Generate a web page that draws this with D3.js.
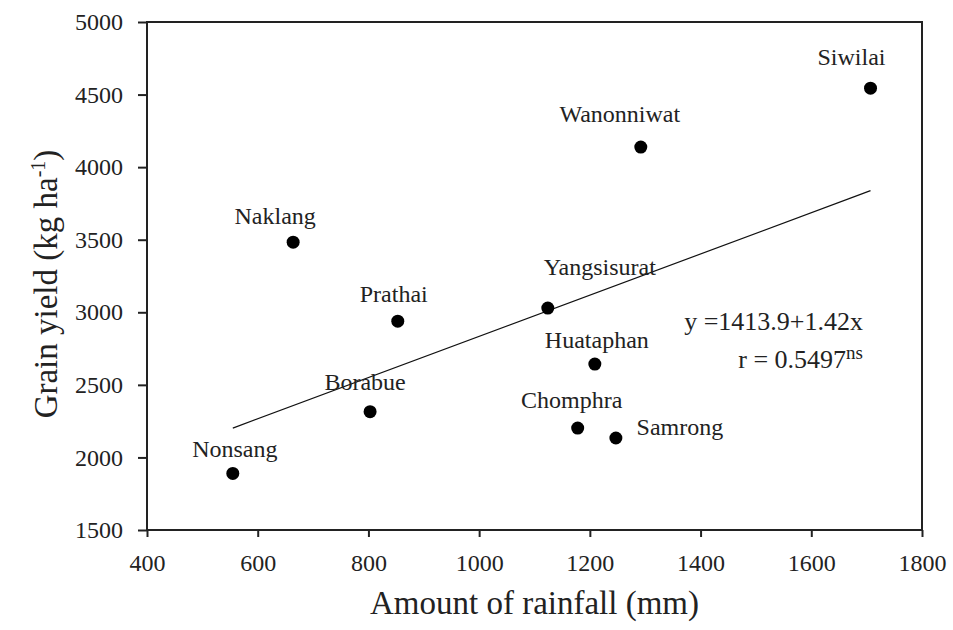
<!DOCTYPE html>
<html>
<head>
<meta charset="utf-8">
<script src="https://cdn.jsdelivr.net/npm/d3@7"></script>
<style>
  body { margin: 0; background: #fff; overflow: hidden; }
  svg { display: block; font-family: "Liberation Serif", "Times New Roman", serif; }
</style>
<script>
// data
const sites = ['Nonsang', 'Naklang', 'Borabue', 'Prathai', 'Yangsisurat', 'Chomphra', 'Huataphan', 'Samrong', 'Wanonniwat', 'Siwilai'];
const rainfall = [555, 664, 803, 853, 1124, 1178, 1209, 1247, 1292, 1707];
const grainYield = [1890, 3483, 2315, 2939, 3029, 2202, 2643, 2134, 4138, 4544];
const xTicks = [400, 600, 800, 1000, 1200, 1400, 1600, 1800];
const yTicks = [1500, 2000, 2500, 3000, 3500, 4000, 4500, 5000];
const intercept = 1413.9;
const slope = 1.42;

// where each site label sits relative to its dot
const labelOffset = {
    Nonsang: [2, -16], Naklang: [-18, -18], Borabue: [-5, -22], Prathai: [-4, -19],
    Yangsisurat: [52, -33], Chomphra: [-6, -20], Huataphan: [2, -16], Samrong: [64, -3],
    Wanonniwat: [-21, -25], Siwilai: [-19, -23]
};

const render = () => {
    const data = sites.map((s, i) => ({site: s, x: rainfall[i], y: grainYield[i]}));

    const svg = d3.select('svg');
    const width = +svg.attr('width');
    const height = +svg.attr('height');
    const margin = {top: 22, right: 31, bottom: 100, left: 147};
    const innerWidth = width - margin.left - margin.right;
    const innerHeight = height - margin.top - margin.bottom;

    const xscale = d3.scaleLinear().domain([400, 1800]).range([0, innerWidth]);
    const yscale = d3.scaleLinear().domain([1500, 5000]).range([innerHeight, 0]);

    const g = svg.append('g')
        .attr('transform', `translate(${margin.left}, ${margin.top})`);

    const ink = '#222';

    // axes
    const xAxis = g.append('g')
        .attr('transform', `translate(0, ${innerHeight})`)
        .call(d3.axisBottom(xscale).tickValues(xTicks).tickSize(7).tickPadding(17).tickFormat(d3.format('d')));
    const yAxis = g.append('g')
        .call(d3.axisLeft(yscale).tickValues(yTicks).tickSize(9).tickPadding(15).tickFormat(d3.format('d')));

    [xAxis, yAxis].forEach(a => {
        a.select('.domain').remove();
        a.selectAll('line').attr('stroke', ink).attr('stroke-width', 2);
        a.selectAll('text').attr('fill', ink).style('font-size', '24px')
            .style('font-family', '"Liberation Serif", serif');
    });

    // frame
    g.append('rect')
        .attr('width', innerWidth)
        .attr('height', innerHeight)
        .attr('fill', 'none')
        .attr('stroke', ink)
        .attr('stroke-width', 2);

    // regression line
    const xMin = d3.min(rainfall);
    const xMax = d3.max(rainfall);
    g.append('line')
        .attr('x1', xscale(xMin))
        .attr('y1', yscale(intercept + slope * xMin))
        .attr('x2', xscale(xMax))
        .attr('y2', yscale(intercept + slope * xMax))
        .attr('stroke', '#111')
        .attr('stroke-width', 1.2);

    // points
    g.selectAll('circle').data(data)
        .enter()
        .append('circle')
            .attr('cx', d => xscale(d.x))
            .attr('cy', d => yscale(d.y))
            .attr('r', 6.5)
            .attr('fill', '#000');

    // site labels
    g.selectAll('text.site').data(data)
        .enter()
        .append('text')
            .attr('class', 'site')
            .attr('x', d => xscale(d.x) + labelOffset[d.site][0])
            .attr('y', d => yscale(d.y) + labelOffset[d.site][1])
            .attr('text-anchor', 'middle')
            .attr('fill', ink)
            .style('font-size', '24px')
            .text(d => d.site);

    // equation
    g.append('text')
        .attr('x', 716)
        .attr('y', 308)
        .attr('text-anchor', 'end')
        .attr('fill', ink)
        .style('font-size', '26px')
        .text('y =1413.9+1.42x');

    const rText = g.append('text')
        .attr('x', 716)
        .attr('y', 346)
        .attr('text-anchor', 'end')
        .attr('fill', ink)
        .style('font-size', '26px');
    rText.append('tspan').text('r = 0.5497');
    rText.append('tspan').attr('dy', -9).style('font-size', '19px').text('ns');

    // axis titles
    svg.append('text')
        .attr('x', margin.left + innerWidth / 2)
        .attr('y', 614)
        .attr('text-anchor', 'middle')
        .attr('fill', ink)
        .style('font-size', '33px')
        .text('Amount of rainfall (mm)');

    const yTitle = svg.append('text')
        .attr('transform', `translate(57, ${margin.top + innerHeight / 2 + 8}) rotate(-90)`)
        .attr('text-anchor', 'middle')
        .attr('fill', ink)
        .style('font-size', '33px');
    yTitle.append('tspan').text('Grain yield (kg ha');
    yTitle.append('tspan').attr('dy', -12).style('font-size', '20px').text('-1');
    yTitle.append('tspan').attr('dy', 12).text(')');
};

window.addEventListener('DOMContentLoaded', render);
</script>
</head>
<body>
<svg width="953" height="630"></svg>
</body>
</html>
